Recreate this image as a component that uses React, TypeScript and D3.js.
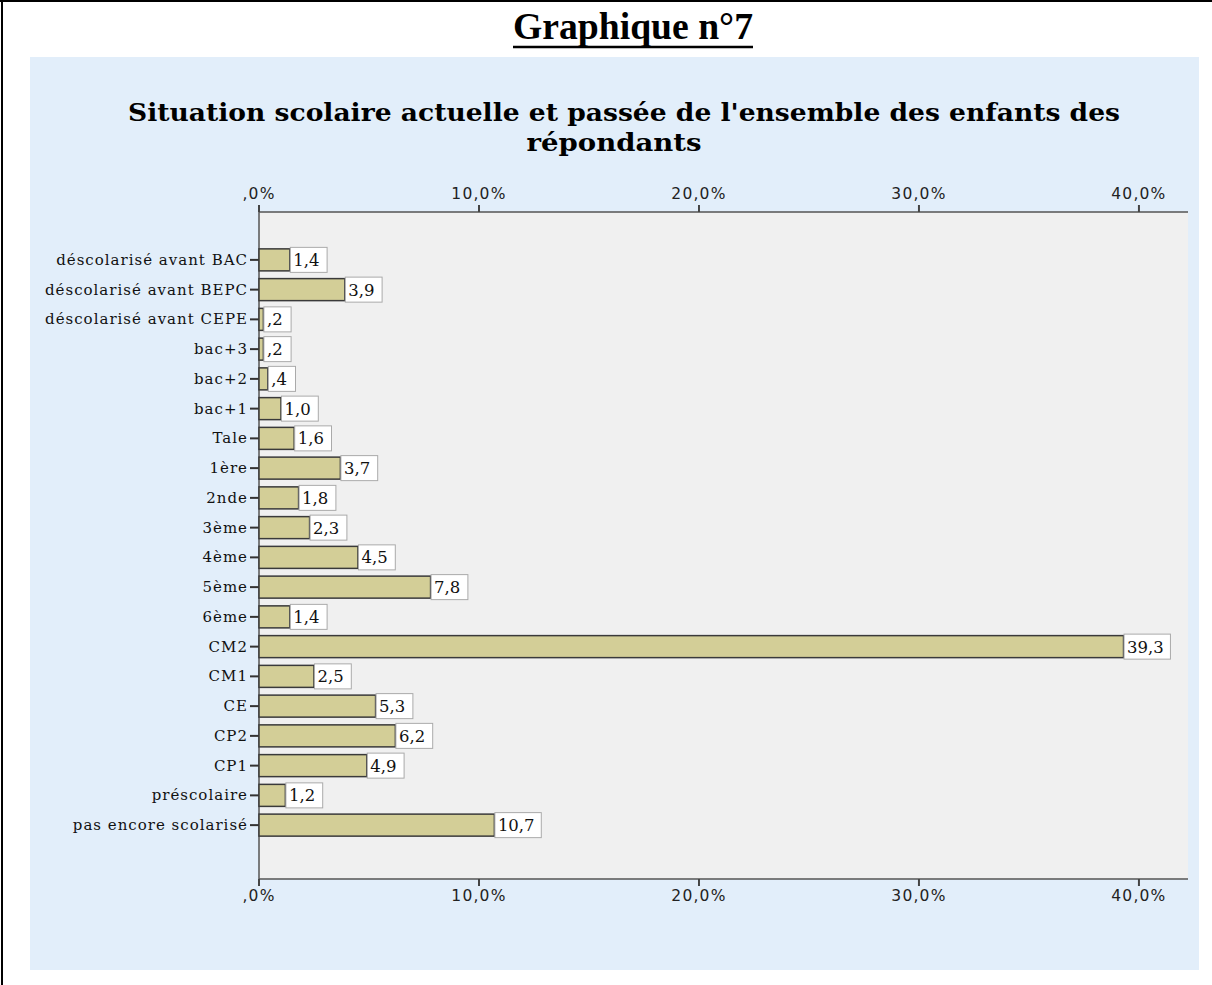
import React from "react";
import * as d3 from "d3";

const categories = [
  "déscolarisé avant BAC",
  "déscolarisé avant BEPC",
  "déscolarisé avant CEPE",
  "bac+3",
  "bac+2",
  "bac+1",
  "Tale",
  "1ère",
  "2nde",
  "3ème",
  "4ème",
  "5ème",
  "6ème",
  "CM2",
  "CM1",
  "CE",
  "CP2",
  "CP1",
  "préscolaire",
  "pas encore scolarisé",
];
const values = [1.4, 3.9, 0.2, 0.2, 0.4, 1.0, 1.6, 3.7, 1.8, 2.3, 4.5, 7.8, 1.4, 39.3, 2.5, 5.3, 6.2, 4.9, 1.2, 10.7];
const tickValues = [0, 10, 20, 30, 40];

const W = 1212;
const H = 985;
const plot = { left: 259, right: 1188, top: 212, bottom: 879 };

const fmtVal = (v: number) => d3.format(".1f")(v).replace(".", ",").replace(/^0,/, ",");
const fmtTick = (v: number) => d3.format(".1f")(v).replace(".", ",").replace(/^0,/, ",") + "%";

export default function App() {
  const x = d3.scaleLinear().domain([0, 42.23]).range([plot.left, plot.right]);
  const y = d3.scaleBand<string>().domain(categories).range([245, 840]).paddingInner(0.26).paddingOuter(0.13);
  const bh = y.bandwidth();
  const sans = "'DejaVu Sans', sans-serif";
  const serif = "'DejaVu Serif', serif";
  return (
    <svg width={W} height={H} style={{ position: "absolute", left: 0, top: 0, background: "#fff" }}>
      {/* page border */}
      <line x1={0} y1={1} x2={W} y2={1} stroke="#000" strokeWidth={2} />
      <line x1={2} y1={0} x2={2} y2={H} stroke="#000" strokeWidth={2} />
      {/* page heading */}
      <text x={633} y={39} textAnchor="middle" fontFamily="'Liberation Serif', serif" fontWeight="bold" fontSize={37}
        textLength={240} lengthAdjust="spacingAndGlyphs">Graphique n°7</text>
      <line x1={513} y1={47} x2={753} y2={47} stroke="#000" strokeWidth={2.5} />
      {/* chart background */}
      <rect x={30} y={57} width={1169} height={913} fill="#E2EEFA" />
      <rect x={plot.left} y={plot.top} width={plot.right - plot.left} height={plot.bottom - plot.top} fill="#F0F0F0" />
      {/* chart title */}
      <text x={624} y={121} textAnchor="middle" fontFamily={serif} fontWeight="bold" fontSize={24}
        textLength={992} lengthAdjust="spacingAndGlyphs">Situation scolaire actuelle et passée de l'ensemble des enfants des</text>
      <text x={614} y={151} textAnchor="middle" fontFamily={serif} fontWeight="bold" fontSize={24}
        textLength={175} lengthAdjust="spacingAndGlyphs">répondants</text>
      {/* axes */}
      <line x1={plot.left} y1={plot.top} x2={plot.right} y2={plot.top} stroke="#555" strokeWidth={1.5} />
      <line x1={plot.left} y1={plot.bottom} x2={plot.right} y2={plot.bottom} stroke="#555" strokeWidth={1.5} />
      <line x1={plot.left} y1={plot.top} x2={plot.left} y2={plot.bottom} stroke="#555" strokeWidth={1.5} />
      {tickValues.map((t) => (
        <g key={t}>
          <line x1={x(t)} x2={x(t)} y1={plot.top - 7} y2={plot.top} stroke="#444" strokeWidth={2} />
          <line x1={x(t)} x2={x(t)} y1={plot.bottom} y2={plot.bottom + 7} stroke="#444" strokeWidth={2} />
          <text x={x(t)} y={199} textAnchor="middle" fontFamily={sans} fontSize={15.5} fill="#222" letterSpacing={1.2}>{fmtTick(t)}</text>
          <text x={x(t)} y={901} textAnchor="middle" fontFamily={sans} fontSize={15.5} fill="#222" letterSpacing={1.2}>{fmtTick(t)}</text>
        </g>
      ))}
      {/* categories */}
      {categories.map((c, i) => {
        const yc = (y(c) as number) + bh / 2;
        const v = values[i];
        const xe = x(v);
        const label = fmtVal(v);
        const bw = label.length * 9.6 + 8;
        return (
          <g key={c}>
            <line x1={plot.left - 9} x2={plot.left} y1={yc} y2={yc} stroke="#333" strokeWidth={2} />
            <text x={plot.left - 11} y={yc + 5} textAnchor="end" fontFamily={serif} fontSize={15} fill="#111" letterSpacing={1}>{c}</text>
            <rect x={plot.left} y={yc - bh / 2} width={xe - plot.left} height={bh} fill="#D3CE97" stroke="#3a3a3a" strokeWidth={1.5} />
            <rect x={xe + 0.5} y={yc - bh / 2 - 1.5} width={bw} height={bh + 3} fill="#fff" stroke="#aaa" strokeWidth={1} />
            <text x={xe + 3.5} y={yc + 6} fontFamily={serif} fontSize={16.5} fill="#111">{label}</text>
          </g>
        );
      })}
    </svg>
  );
}
